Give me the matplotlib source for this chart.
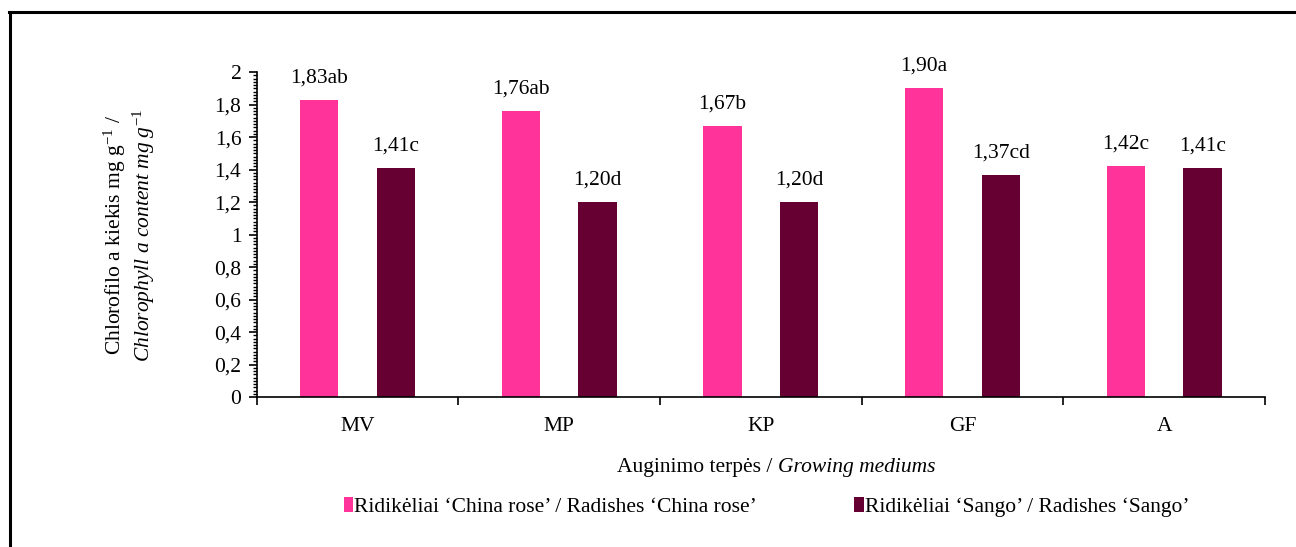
import numpy as np
import matplotlib.pyplot as plt
import matplotlib as mpl
from matplotlib.ticker import MultipleLocator, FixedLocator, FuncFormatter

mpl.rcParams['font.family'] = ['Liberation Serif', 'DejaVu Serif']
mpl.rcParams['mathtext.fontset'] = 'custom'
mpl.rcParams['mathtext.rm'] = 'Liberation Serif'
mpl.rcParams['mathtext.it'] = 'Liberation Serif:italic'

mediums = ['MV', 'MP', 'KP', 'GF', 'A']
china_rose = [1.83, 1.76, 1.67, 1.90, 1.42]
sango = [1.41, 1.20, 1.20, 1.37, 1.41]
china_rose_letters = ['ab', 'ab', 'b', 'a', 'c']
sango_letters = ['c', 'd', 'd', 'cd', 'c']
series_names = ["Ridikėliai \u2018China rose\u2019 / Radishes \u2018China rose\u2019",
                "Ridikėliai \u2018Sango\u2019 / Radishes \u2018Sango\u2019"]

pink = '#FF3399'
maroon = '#660033'
fs = 15.5


def comma(v, pos=None):
    s = '{:.1f}'.format(v).replace('.', ',')
    if s.endswith(',0'):
        s = s[:-2]
    return s


fig = plt.figure(figsize=(12.96, 5.47), dpi=100)
ax = fig.add_axes([0.198, 0.274, 0.778, 0.594])

x = np.arange(len(mediums))
w = 0.19
b1 = ax.bar(x - w, china_rose, w, color=pink)
b2 = ax.bar(x + w, sango, w, color=maroon)

for bars, vals, letters in [(b1, china_rose, china_rose_letters),
                            (b2, sango, sango_letters)]:
    for r, v, l in zip(bars, vals, letters):
        ax.annotate('{:.2f}'.format(v).replace('.', ',') + l,
                    (r.get_x() + r.get_width() / 2, v),
                    xytext=(0, 9), textcoords='offset points',
                    ha='center', va='bottom', fontsize=fs)

ax.set_xlim(-0.5, len(mediums) - 0.5)
ax.set_ylim(0, 2)
for s in ['top', 'right']:
    ax.spines[s].set_visible(False)
ax.spines['left'].set_linewidth(1.2)
ax.spines['bottom'].set_linewidth(1.2)

ax.yaxis.set_major_locator(MultipleLocator(0.2))
ax.yaxis.set_minor_locator(MultipleLocator(0.02))
ax.yaxis.set_major_formatter(FuncFormatter(comma))
ax.tick_params(axis='y', which='major', length=6, width=1.2, labelsize=fs, pad=5)
ax.tick_params(axis='y', which='minor', length=3, width=1)

ax.xaxis.set_major_locator(FixedLocator(np.arange(len(mediums) + 1) - 0.5))
ax.xaxis.set_major_formatter(FuncFormatter(lambda v, p: ''))
ax.set_xticks(x, mediums, minor=True)
ax.tick_params(axis='x', which='major', length=6, width=1.2)
ax.tick_params(axis='x', which='minor', length=0, labelsize=fs, pad=14)

fig.text(0.089, 0.571, r'Chlorofilo a kiekis mg g$^{-1}$ /', rotation=90,
         ha='center', va='center', fontsize=fs)
fig.text(0.111, 0.571, r'$\it{Chlorophyll\ a\ content\ mg\ g^{-1}}$', rotation=90,
         ha='center', va='center', fontsize=fs)

fig.text(0.6, 0.146, 'Auginimo terpės / ', ha='right', va='center', fontsize=fs)
fig.text(0.6, 0.146, 'Growing mediums', ha='left', va='center', fontsize=fs,
         style='italic')

leg = fig.legend([b1, b2], series_names, loc='center', bbox_to_anchor=(0.5914, 0.073),
                 ncol=2, frameon=False, fontsize=fs, handlelength=0.45,
                 handleheight=0.7, handletextpad=0.05, columnspacing=4.5)

# frame around the figure
fig.add_artist(plt.Line2D([0.007, 1.0], [0.978, 0.978], color='black', lw=2.2,
                          transform=fig.transFigure))
fig.add_artist(plt.Line2D([0.008, 0.008], [0.0, 0.978], color='black', lw=2.2,
                          transform=fig.transFigure))

fig.savefig('out.png', dpi=100)
